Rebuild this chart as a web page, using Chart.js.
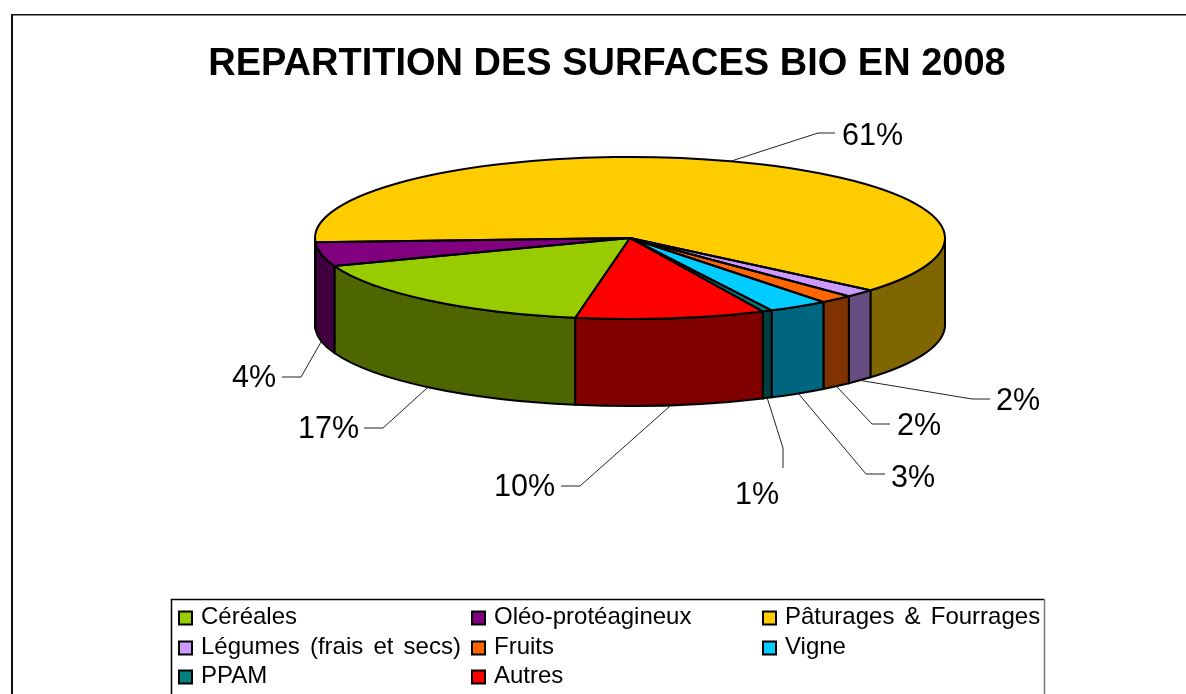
<!DOCTYPE html>
<html lang="fr">
<head>
<meta charset="utf-8">
<title>Repartition des surfaces bio en 2008</title>
<script src="https://cdn.jsdelivr.net/npm/chart.js@4"></script>
<style>
    html, body { margin: 0; padding: 0; background: #fff; overflow: hidden; }
    canvas { display: block; }
</style>
</head>
<body>
<canvas id="bio-chart" width="1186" height="694"></canvas>
<script>
// Chart data
const chartTitle = 'REPARTITION DES SURFACES BIO EN 2008';
const categories = ['Céréales', 'Oléo-protéagineux', 'Pâturages & Fourrages', 'Légumes (frais et secs)', 'Fruits', 'Vigne', 'PPAM', 'Autres'];
// Slice sizes as measured on the picture, the printed percentages are kept apart
const shares = [16.6, 4.8, 62.0, 1.6, 1.7, 3.1, 0.5, 9.7];
const printedPercents = ['17%', '4%', '61%', '2%', '2%', '3%', '1%', '10%'];
const sliceColors = ['#99cc00', '#800080', '#ffcc00', '#cc99ff', '#ff6600', '#00ccff', '#008080', '#ff0000'];

// Layout of the flattened pie
const pie3d = { cx: 630, cy: 238, rx: 315, ry: 81, depth: 87 };
const FONT = '"Liberation Sans", Arial, sans-serif';

// Leader line knee, line end and text anchor for each slice label
const labelLayout = [
    { knee: [383, 428], end: [364, 428], text: [359, 430], align: 'right' },
    { knee: [301, 377], end: [282, 377], text: [276, 379], align: 'right' },
    { knee: [818, 133], end: [835, 133], text: [842, 137], align: 'left' },
    { knee: [972, 399], end: [990, 399], text: [996, 402], align: 'left' },
    { knee: [872, 424], end: [890, 424], text: [897, 427], align: 'left' },
    { knee: [866, 474], end: [885, 474], text: [891, 479], align: 'left' },
    { knee: [783, 448], end: [783, 468], text: [735, 496], align: 'left' },
    { knee: [580, 486], end: [561, 486], text: [555, 488], align: 'right' }
];

// Legend grid
const legendBox = { left: 171, top: 599, right: 1044 };
const legendColumns = [178, 471, 762];
const legendRows = [617, 647, 676];

// Side walls are the slice colour at half brightness
function shade(hex) {
    const n = parseInt(hex.slice(1), 16);
    const half = v => Math.round(v / 2);
    return `rgb(${half((n >> 16) & 255)}, ${half((n >> 8) & 255)}, ${half(n & 255)})`;
}

function sidePath(ctx, lo, hi) {
    const { cx, cy, rx, ry, depth } = pie3d;
    ctx.beginPath();
    ctx.ellipse(cx, cy, rx, ry, 0, lo, hi);
    ctx.ellipse(cx, cy + depth, rx, ry, 0, hi, lo, true);
    ctx.closePath();
}

// Flattens the library's pie into an ellipse and adds the walls
const pie3dPlugin = {
    id: 'pie3d',
    beforeDatasetsDraw(chart) {
        const ctx = chart.ctx;
        const arcs = chart.getDatasetMeta(0).data;
        ctx.save();
        ctx.lineWidth = 2;
        ctx.strokeStyle = '#000';
        arcs.forEach((arc, i) => {
            for (let k = -1; k <= 2; k++) {
                const lo = Math.max(arc.startAngle, 2 * Math.PI * k);
                const hi = Math.min(arc.endAngle, 2 * Math.PI * k + Math.PI);
                if (hi > lo) {
                    sidePath(ctx, lo, hi);
                    ctx.fillStyle = shade(sliceColors[i]);
                    ctx.fill();
                    ctx.stroke();
                }
            }
        });
        ctx.restore();

        const first = arcs[0];
        ctx.save();
        ctx.translate(pie3d.cx, pie3d.cy);
        ctx.scale(pie3d.rx / first.outerRadius, pie3d.ry / first.outerRadius);
        ctx.translate(-first.x, -first.y);
    },
    afterDatasetsDraw(chart) {
        const ctx = chart.ctx;
        ctx.restore();
        const { cx, cy, rx, ry, depth } = pie3d;
        const arcs = chart.getDatasetMeta(0).data;

        // Slice outlines
        ctx.save();
        ctx.lineWidth = 2;
        ctx.strokeStyle = '#000';
        ctx.lineJoin = 'round';
        arcs.forEach(arc => {
            ctx.beginPath();
            ctx.moveTo(cx, cy);
            ctx.ellipse(cx, cy, rx, ry, 0, arc.startAngle, arc.endAngle);
            ctx.closePath();
            ctx.stroke();
        });
        ctx.restore();

        // Percent labels and leader lines
        ctx.save();
        arcs.forEach((arc, i) => {
            const mid = (arc.startAngle + arc.endAngle) / 2;
            const x = cx + rx * Math.cos(mid);
            let y = cy + ry * Math.sin(mid);
            if (Math.sin(mid) > 0) y += depth;
            const place = labelLayout[i];
            ctx.beginPath();
            ctx.moveTo(x, y);
            ctx.lineTo(place.knee[0], place.knee[1]);
            ctx.lineTo(place.end[0], place.end[1]);
            ctx.strokeStyle = '#222';
            ctx.lineWidth = 1;
            ctx.stroke();

            ctx.fillStyle = '#000';
            ctx.font = `30.5px ${FONT}`;
            ctx.textAlign = place.align;
            ctx.textBaseline = 'middle';
            ctx.fillText(printedPercents[i], place.text[0], place.text[1]);
        });
        ctx.restore();
    },
    afterDraw(chart) {
        const ctx = chart.ctx;
        ctx.save();

        // Outer frame, cut by the edges of the picture
        ctx.strokeStyle = '#111';
        ctx.lineWidth = 2;
        ctx.beginPath();
        ctx.moveTo(12, 694);
        ctx.lineTo(12, 14);
        ctx.stroke();
        ctx.lineWidth = 1.5;
        ctx.beginPath();
        ctx.moveTo(11, 14.7);
        ctx.lineTo(1186, 14.7);
        ctx.stroke();

        // Legend box, its right edge is lighter
        ctx.strokeStyle = '#000';
        ctx.lineWidth = 1.5;
        ctx.beginPath();
        ctx.moveTo(legendBox.left + 0.5, 694);
        ctx.lineTo(legendBox.left + 0.5, legendBox.top + 0.5);
        ctx.lineTo(legendBox.right, legendBox.top + 0.5);
        ctx.stroke();
        ctx.strokeStyle = '#777';
        ctx.beginPath();
        ctx.moveTo(legendBox.right + 0.5, legendBox.top);
        ctx.lineTo(legendBox.right + 0.5, 694);
        ctx.stroke();

        // Legend entries, three per row
        ctx.font = `24px ${FONT}`;
        ctx.wordSpacing = '3.5px';
        ctx.textBaseline = 'middle';
        ctx.textAlign = 'left';
        ctx.strokeStyle = '#000';
        chart.data.labels.forEach((label, i) => {
            const x = legendColumns[i % 3];
            const y = legendRows[Math.floor(i / 3)];
            ctx.fillStyle = sliceColors[i];
            ctx.fillRect(x + 1, y - 5.5, 13, 13);
            ctx.lineWidth = 2;
            ctx.strokeRect(x + 1, y - 5.5, 13, 13);
            ctx.fillStyle = '#000';
            ctx.fillText(label, x + 23, y);
        });
        ctx.restore();
    }
};

const ctx = document.getElementById('bio-chart').getContext('2d');
new Chart(ctx, {
    type: 'pie',
    data: {
        labels: categories,
        datasets: [{
            data: shares,
            backgroundColor: sliceColors,
            borderWidth: 0,
            clip: false
        }]
    },
    options: {
        responsive: false,
        animation: false,
        rotation: 190,
        layout: { padding: { left: 28 } },
        plugins: {
            legend: { display: false },
            tooltip: { enabled: false },
            title: {
                display: true,
                text: chartTitle,
                color: '#000',
                font: { family: FONT, size: 38, weight: 'bold' },
                padding: { top: 42, bottom: 10 }
            }
        }
    },
    plugins: [pie3dPlugin]
});
</script>
</body>
</html>
